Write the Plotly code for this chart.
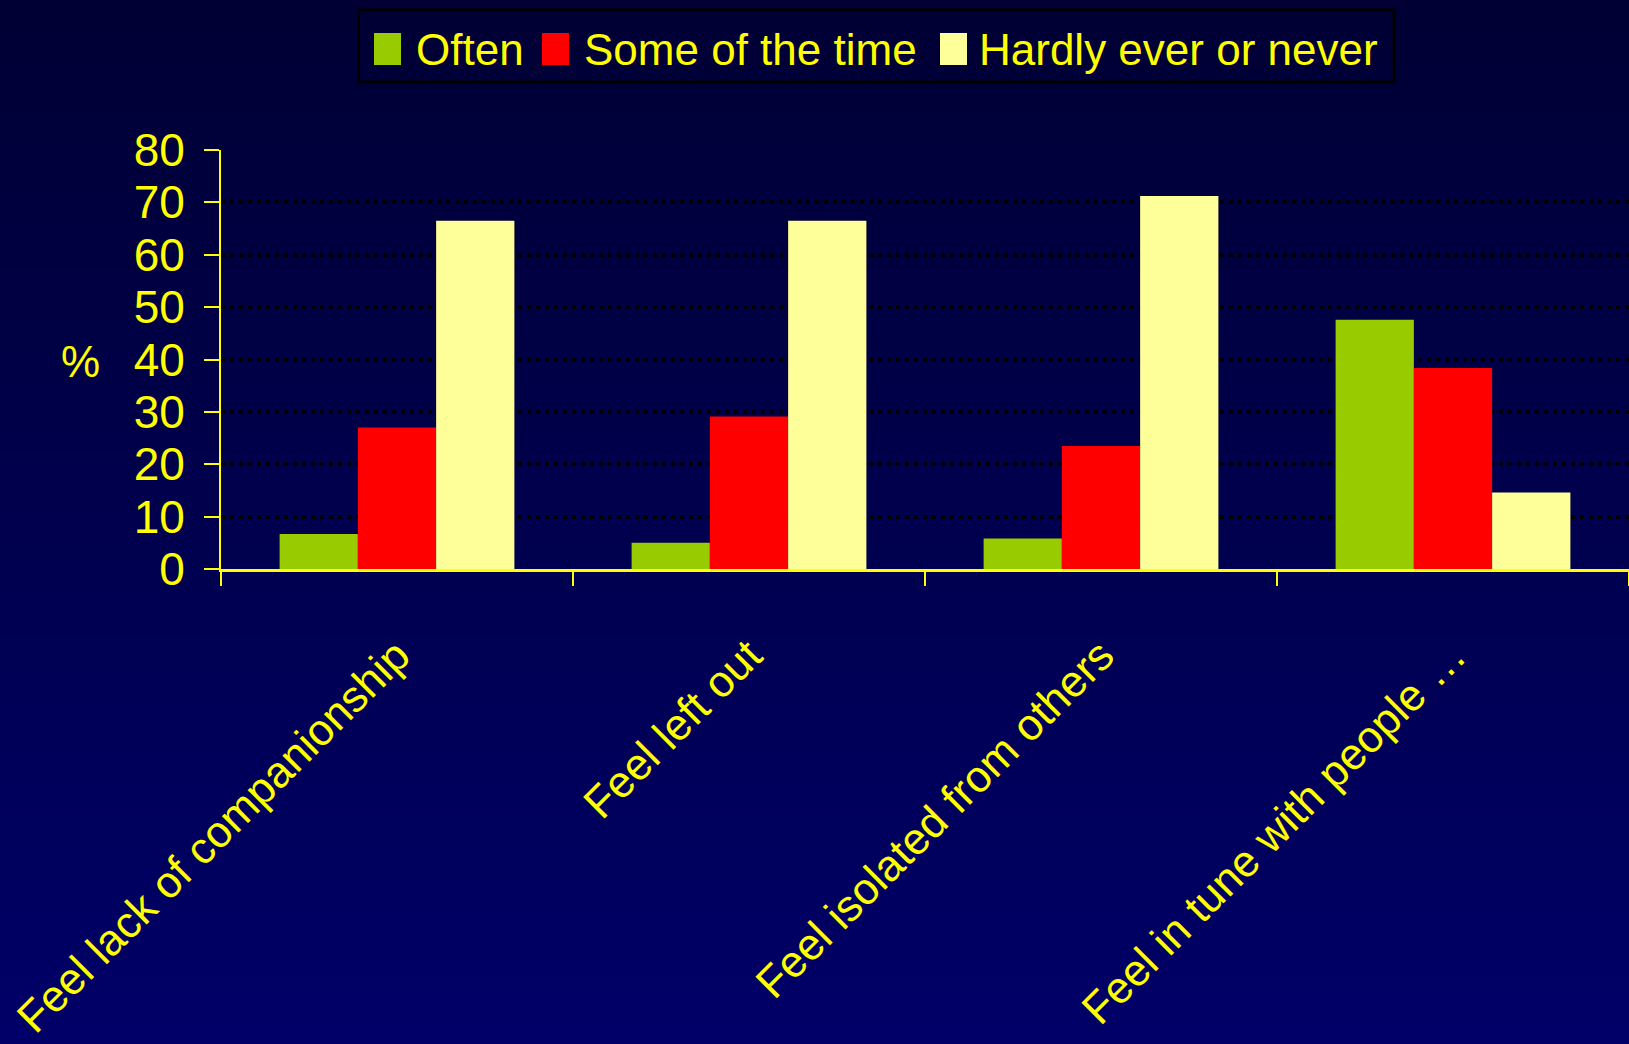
import plotly.graph_objects as go

# Survey data: share of respondents (%) per feeling, by frequency
categories = [
    "Feel lack of companionship",
    "Feel left out",
    "Feel isolated from others",
    "Feel in tune with people \u2026",
]
often = [6.7, 5.0, 5.8, 47.6]
some_of_the_time = [27.0, 29.1, 23.5, 38.4]
hardly_ever = [66.5, 66.5, 71.2, 14.6]

series_names = ["Often", "Some of the time", "Hardly ever or never"]
series_values = [often, some_of_the_time, hardly_ever]
series_colors = ["#99CC00", "#FF0000", "#FFFF99"]

y_ticks = [0, 10, 20, 30, 40, 50, 60, 70, 80]

# Page geometry (pixels)
FIG_W, FIG_H = 1629, 1044
M_L, M_R, M_T, M_B = 221, 0, 150, 475
PLOT_W = FIG_W - M_L - M_R
PLOT_H = FIG_H - M_T - M_B
TEXT_YELLOW = "#FFFF00"
FONT = "Liberation Sans, Arial, sans-serif"


def px_x(x):
    return (x - M_L) / PLOT_W


def px_y(y):
    return (FIG_H - M_B - y) / PLOT_H


fig = go.Figure()
for name, vals, color in zip(series_names, series_values, series_colors):
    fig.add_trace(go.Bar(
        x=categories, y=vals, name=name,
        marker=dict(color=color, line=dict(width=0)),
        showlegend=False,
    ))

shapes = []
# Navy vertical gradient background
n_bands = 120
top_rgb = (0, 0, 0x34)
bot_rgb = (0, 0, 0x68)
band_h = FIG_H / n_bands
for i in range(n_bands):
    t = (i + 0.5) / n_bands
    c = tuple(round(a + (b - a) * t) for a, b in zip(top_rgb, bot_rgb))
    y0 = i * band_h
    y1 = min(FIG_H, (i + 1) * band_h + 1.5)
    shapes.append(dict(
        type="rect", xref="paper", yref="paper", layer="below",
        x0=px_x(0), x1=px_x(FIG_W), y0=px_y(y1), y1=px_y(y0),
        fillcolor="rgb(%d,%d,%d)" % c, line=dict(width=0),
    ))

# Legend box with colour swatches
shapes.append(dict(
    type="rect", xref="paper", yref="paper", layer="above",
    x0=px_x(358.5), x1=px_x(1394), y0=px_y(82), y1=px_y(10),
    fillcolor="rgba(0,0,0,0)", line=dict(color="#000000", width=3),
))
legend_items = [
    (374, 413.5, 0),
    (542, 582, 1),
    (940, 977, 2),
]
annotations = []
for sx, tx, idx in legend_items:
    shapes.append(dict(
        type="rect", xref="paper", yref="paper", layer="above",
        x0=px_x(sx), x1=px_x(sx + 27), y0=px_y(65), y1=px_y(33),
        fillcolor=series_colors[idx], line=dict(width=0),
    ))
    annotations.append(dict(
        text=series_names[idx], xref="paper", yref="paper",
        x=px_x(tx), y=px_y(49), xanchor="left", yanchor="middle",
        showarrow=False, font=dict(family=FONT, size=44, color=TEXT_YELLOW),
    ))

# Horizontal unit label beside the value axis
annotations.append(dict(
    text="%", xref="paper", yref="paper",
    x=px_x(80), y=px_y(361), xanchor="center", yanchor="middle",
    showarrow=False, font=dict(family=FONT, size=44, color=TEXT_YELLOW),
))

fig.update_layout(
    width=FIG_W, height=FIG_H,
    margin=dict(l=M_L, r=M_R, t=M_T, b=M_B, autoexpand=False),
    paper_bgcolor="#00003a",
    plot_bgcolor="rgba(0,0,0,0)",
    barmode="group", bargap=0.333, bargroupgap=0,
    font=dict(family=FONT, color=TEXT_YELLOW),
    shapes=shapes, annotations=annotations,
    showlegend=False,
)

fig.update_xaxes(
    type="category",
    showline=True, linecolor=TEXT_YELLOW, linewidth=3,
    ticks="outside", ticklen=14, tickwidth=2, tickcolor=TEXT_YELLOW,
    tickson="boundaries", tickangle=-45,
    tickfont=dict(family=FONT, size=44, color=TEXT_YELLOW),
    ticklabelstandoff=40,
    showgrid=False, automargin=False,
)

fig.update_yaxes(
    range=[0, 80], tickvals=y_ticks, ticktext=[str(v) for v in y_ticks],
    showline=True, linecolor=TEXT_YELLOW, linewidth=2,
    ticks="outside", ticklen=15, tickwidth=2, tickcolor=TEXT_YELLOW,
    tickfont=dict(family=FONT, size=46, color=TEXT_YELLOW),
    ticklabelstandoff=10,
    showgrid=True, gridcolor="#000000", gridwidth=3.5, griddash="4px,5px",
    zeroline=False, automargin=False,
)

fig.write_html("out.html")
